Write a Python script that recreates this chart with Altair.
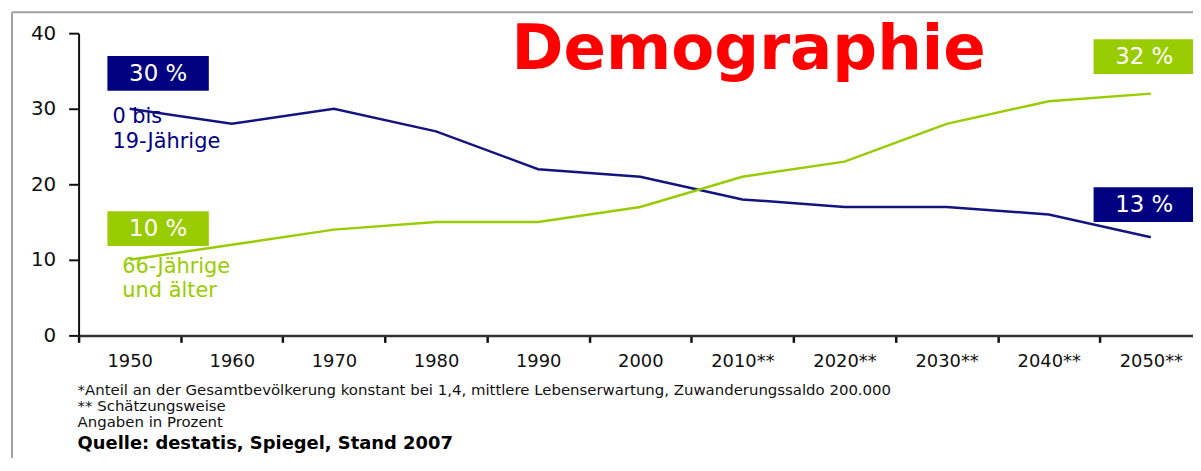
import altair as alt
import pandas as pd

# ---- data ----
years = ["1950", "1960", "1970", "1980", "1990", "2000",
         "2010**", "2020**", "2030**", "2040**", "2050**"]
young = [30, 28, 30, 27, 22, 21, 18, 17, 17, 16, 13]   # 0 bis 19-Jährige
old = [10, 12, 14, 15, 15, 17, 21, 23, 28, 31, 32]     # 66-Jährige und älter
y_ticks = [0, 10, 20, 30, 40]
group_young = "0 bis 19-Jährige"
group_old = "66-Jährige und älter"

title_text = "Demographie"
foot_lines = [
    "*Anteil an der Gesamtbevölkerung konstant bei 1,4, mittlere Lebenserwartung, Zuwanderungssaldo 200.000",
    "** Schätzungsweise",
    "Angaben in Prozent",
]
source_line = "Quelle: destatis, Spiegel, Stand 2007"

NAVY = "#000080"
NAVY_LINE = "#14147e"
GREEN = "#99CC00"
FONT = "DejaVu Sans"

df = pd.DataFrame({
    "Jahr": years * 2,
    "Anteil": young + old,
    "Gruppe": [group_young] * len(years) + [group_old] * len(years),
})

x_enc = alt.X(
    "Jahr:N", sort=years, bandPosition=0.5,
    scale=alt.Scale(type="band", domain=years, range=[0, 1130],
                    paddingInner=0, paddingOuter=0),
    axis=alt.Axis(title=None, tickBand="extent", labelAngle=0, labelOverlap=False,
                  domainColor="#333333", domainWidth=2.5, tickColor="#111111",
                  tickWidth=2.5, tickSize=7, labelFont=FONT, labelFontSize=18,
                  labelColor="#111111", labelPadding=10, grid=False),
)
y_enc = alt.Y(
    "Anteil:Q", scale=alt.Scale(domain=[0, 40]),
    axis=alt.Axis(title=None, values=y_ticks, domainColor="#111111", domainWidth=2,
                  tickColor="#111111", tickWidth=2, tickSize=10, labelFont=FONT,
                  labelFontSize=20, labelColor="#111111", labelPadding=13, grid=False),
)

lines = alt.Chart(df).mark_line(strokeWidth=2.5).encode(
    x=x_enc, y=y_enc,
    color=alt.Color("Gruppe:N", scale=alt.Scale(domain=[group_young, group_old],
                                                range=[NAVY_LINE, GREEN]), legend=None),
)


def one(text):
    return pd.DataFrame({"t": [text]})


def box(x0, y0, label, color):
    rect = alt.Chart(one(label)).mark_rect(color=color).encode(
        x=alt.value(x0), x2=alt.value(x0 + 102), y=alt.value(y0), y2=alt.value(y0 + 35))
    txt = alt.Chart(one(label)).mark_text(
        font=FONT, fontSize=23, color="white", align="center", baseline="middle").encode(
        text="t:N", x=alt.value(x0 + 51), y=alt.value(y0 + 18))
    return [rect, txt]


layers = [lines]
layers += box(29, 23, f"{young[0]} %", NAVY)
layers += box(29, 179, f"{old[0]} %", GREEN)
layers += box(1021, 6, f"{old[-1]} %", GREEN)
layers += box(1021, 155, f"{young[-1]} %", NAVY)

# inline series labels
layers.append(alt.Chart(one(group_young)).mark_text(
    font=FONT, fontSize=21, color=NAVY, align="left", baseline="alphabetic",
    lineHeight=26).encode(text=alt.value(["0 bis", "19-Jährige"]),
                          x=alt.value(34), y=alt.value(90)))
layers.append(alt.Chart(one(group_old)).mark_text(
    font=FONT, fontSize=21, color=GREEN, align="left", baseline="alphabetic",
    lineHeight=24).encode(text=alt.value(["66-Jährige", "und älter"]),
                          x=alt.value(44), y=alt.value(241)))

# big red heading
layers.append(alt.Chart(one(title_text)).mark_text(
    font=FONT, fontSize=63, fontWeight="bold", color="#FF0000", align="center",
    baseline="alphabetic").encode(text="t:N", x=alt.value(674), y=alt.value(36)))

# footnotes
for line, yy in zip(foot_lines, [364, 380, 396]):
    layers.append(alt.Chart(one(line)).mark_text(
        font=FONT, fontSize=15, color="#111111", align="left", baseline="alphabetic").encode(
        text="t:N", x=alt.value(-1), y=alt.value(yy)))
layers.append(alt.Chart(one(source_line)).mark_text(
    font=FONT, fontSize=18, fontWeight="bold", color="#000000", align="left",
    baseline="alphabetic").encode(text="t:N", x=alt.value(-1), y=alt.value(418)))

# grey frame
layers.append(alt.Chart(one("frame")).mark_rule(color="#A0A0A0", strokeWidth=2).encode(
    x=alt.value(-67), y=alt.value(-21), y2=alt.value(430)))
layers.append(alt.Chart(one("frame")).mark_rule(color="#A0A0A0", strokeWidth=2).encode(
    x=alt.value(-67), x2=alt.value(1130), y=alt.value(-21)))

chart = alt.layer(*layers).properties(
    width=1121, height=304,
    autosize=alt.AutoSizeParams(type="none"),
    padding={"left": 71, "top": 24, "right": 0, "bottom": 122},
    background="white",
).configure_view(stroke=None)

chart.save("out.html", embed_options={"renderer": "svg", "actions": False})
